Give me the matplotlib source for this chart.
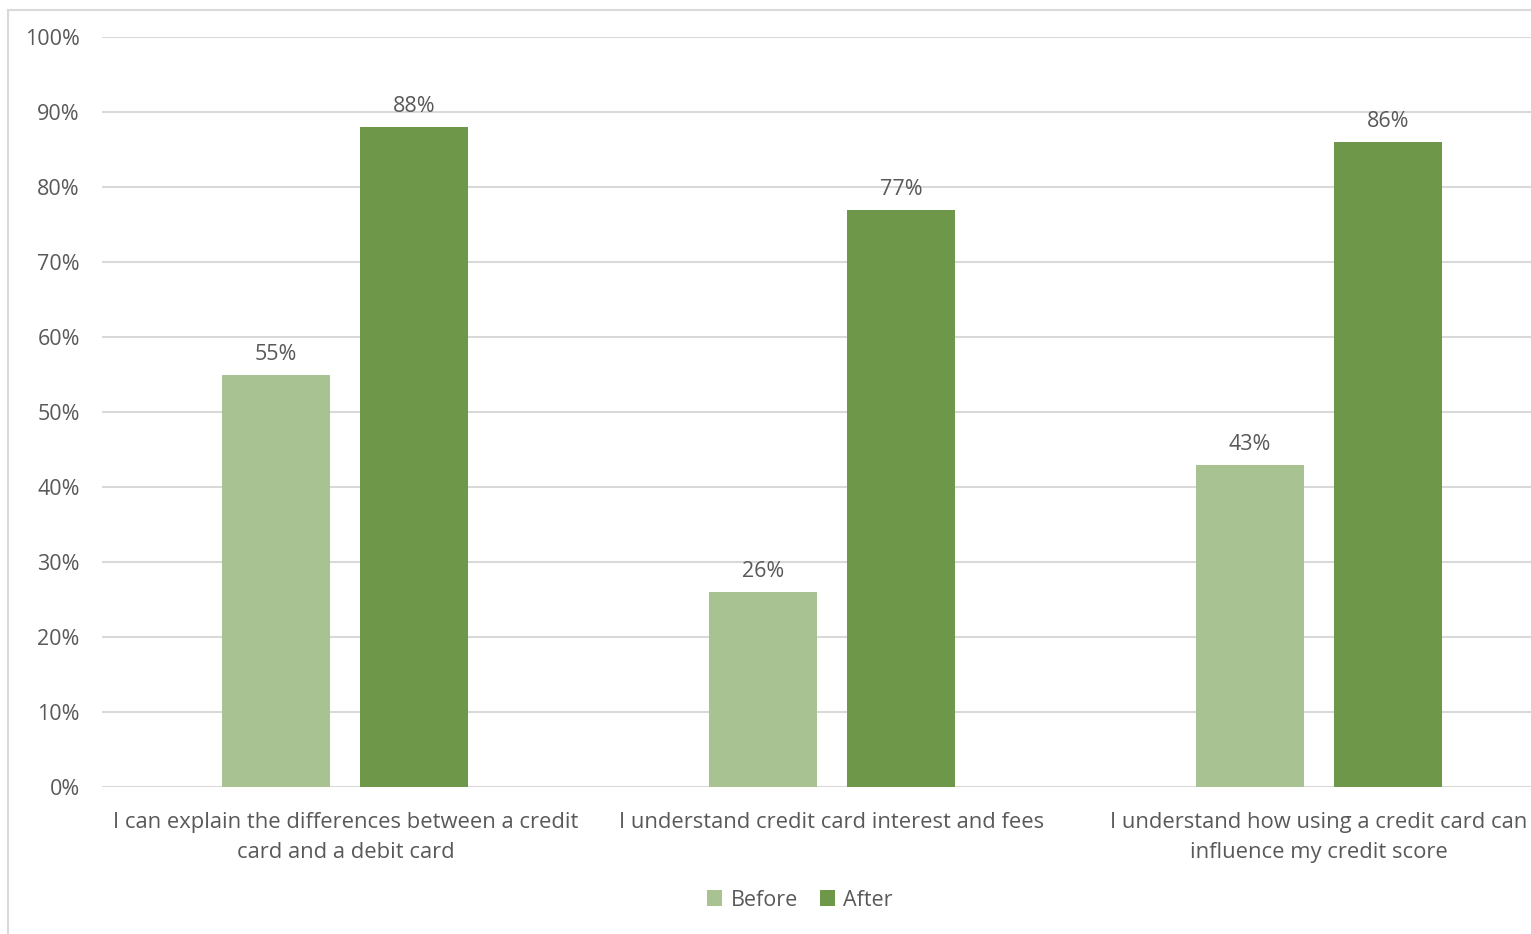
import matplotlib
matplotlib.use("Agg")
import matplotlib.pyplot as plt
import numpy as np
from matplotlib.patches import Rectangle

categories = ["I can explain the differences between a credit\ncard and a debit card",
              "I understand credit card interest and fees",
              "I understand how using a credit card can\ninfluence my credit score"]
before = [55, 26, 43]
after = [88, 77, 86]
series_names = ["Before", "After"]
yticks = [0, 10, 20, 30, 40, 50, 60, 70, 80, 90, 100]

c_before = "#A9C292"
c_after = "#6F974A"
txt = "#595959"
font = "Open Sans"

W, H = 1531, 934
fig = plt.figure(figsize=(W/100, H/100), dpi=100)
# outer chart border
fig.patches.append(Rectangle((8/W, -0.1), 1.2, 1.1 - 10/H, transform=fig.transFigure,
                             fill=False, edgecolor="#D9D9D9", linewidth=1.5))

ax = fig.add_axes([102/W, 1 - 787/H, (1562-102)/W, (787-37)/H])
x = np.arange(len(categories))
bw = 0.222
off = 0.142
b1 = ax.bar(x - off, before, bw, color=c_before, zorder=3, label=series_names[0])
b2 = ax.bar(x + off, after, bw, color=c_after, zorder=3, label=series_names[1])
for bars, vals in ((b1, before), (b2, after)):
    for r, v in zip(bars, vals):
        ax.annotate(f"{v}%", (r.get_x() + r.get_width()/2, v), xytext=(0, 7),
                    textcoords="offset points", ha="center", va="bottom",
                    fontsize=15.5, color=txt, family=font)

ax.set_xlim(-0.5, 2.5)
ax.set_ylim(0, 100)
ax.set_yticks(yticks)
ax.set_yticklabels([f"{t}%" for t in yticks], fontsize=15.5, color=txt, family=font)
ax.set_xticks(x)
ax.set_xticklabels(categories, fontsize=15.8, color=txt, family=font, linespacing=1.55)
ax.tick_params(axis="both", length=0)
ax.tick_params(axis="y", pad=16)
ax.tick_params(axis="x", pad=18)
ax.grid(axis="y", color="#D9D9D9", linewidth=1.5, zorder=0)
for s in ax.spines.values():
    s.set_visible(False)

leg = fig.legend(handles=[b1, b2], labels=series_names, loc="center",
                 bbox_to_anchor=(800/W, 1 - 900/H), ncol=2, frameon=False,
                 prop={"family": font, "size": 15.5}, handlelength=0.7, handleheight=0.7,
                 handletextpad=0.4, columnspacing=1.0)
for t in leg.get_texts():
    t.set_color(txt)

fig.savefig("out.png", dpi=100)
